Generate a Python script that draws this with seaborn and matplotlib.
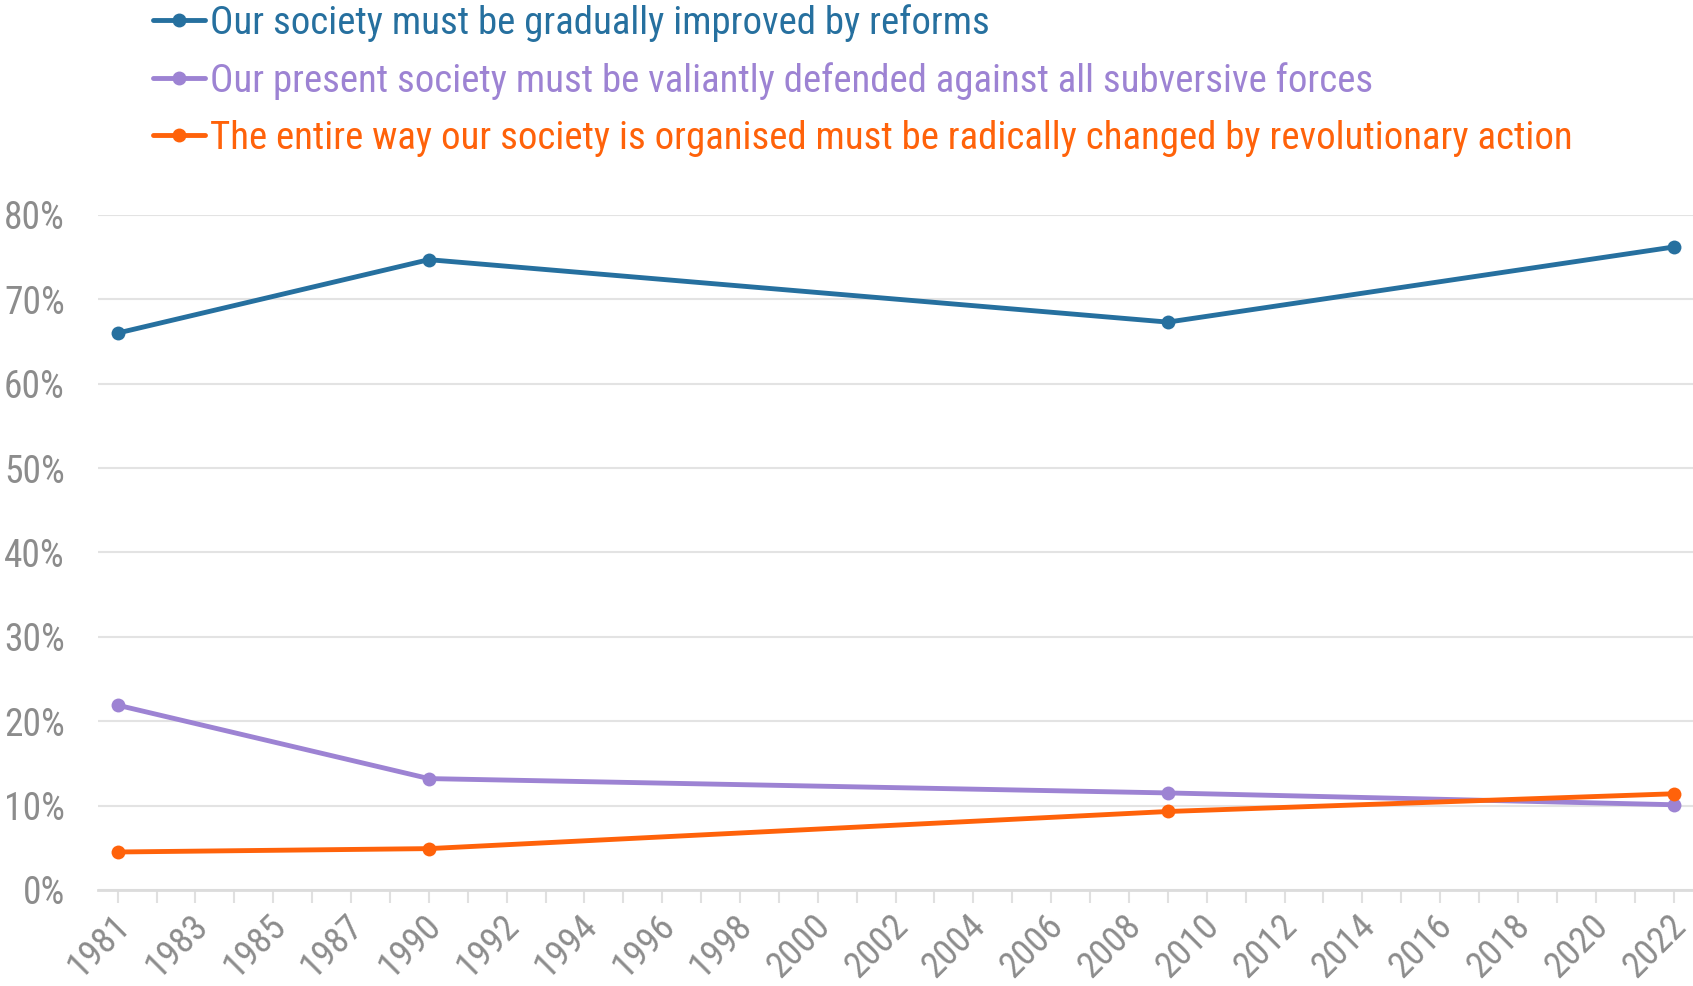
import matplotlib
matplotlib.use("Agg")
import matplotlib.pyplot as plt
import matplotlib.transforms as mtransforms
from matplotlib import font_manager
from matplotlib.lines import Line2D
import pandas as pd
import seaborn as sns

# category axis: one slot per survey year label (1989 not present)
categories = [str(y) for y in range(1981, 1989)] + [str(y) for y in range(1990, 2023)]
survey_years = ["1981", "1990", "2009", "2022"]

reforms = [66.0, 74.7, 67.3, 76.2]
defended = [21.9, 13.2, 11.5, 10.1]
revolution = [4.5, 4.9, 9.3, 11.4]

series_names = [
    "Our society must be gradually improved by reforms",
    "Our present society must be valiantly defended against all subversive forces",
    "The entire way our society is organised must be radically changed by revolutionary action",
]
colors = ["#26709f", "#9d83d3", "#ff620a"]

sns.set_theme(style="white")

# look for a narrow face installed on the machine
cands = []
for f in font_manager.fontManager.ttflist:
    fn = f.fname.lower()
    if ("condensed" in fn or "narrow" in fn) and f.style == "normal" and f.weight in (400, "normal", "regular"):
        if "semi" in fn or "extra" in fn or "light" in fn or "bold" in fn:
            continue
        cands.append(f)
pick = None
for key in ["robotocondensed", "opensans_condensed", "opensanscondensed", "liberationsansnarrow", "dejavusanscondensed", ""]:
    for f in cands:
        if key in f.fname.lower().replace("-", "").replace(" ", ""):
            pick = f
            break
    if pick:
        break
if pick is not None:
    plt.rcParams["font.family"] = [pick.name, "DejaVu Sans"]
    plt.rcParams["font.stretch"] = pick.stretch
else:
    plt.rcParams["font.family"] = ["DejaVu Sans"]

rows = []
for name, vals in zip(series_names, [reforms, defended, revolution]):
    for yr, v in zip(survey_years, vals):
        rows.append({"pos": categories.index(yr), "value": v / 100, "series": name})
df = pd.DataFrame(rows)

fig = plt.figure(figsize=(16.93, 9.86), dpi=100)
ax = fig.add_axes([0.058, 0.0974, 0.942, 0.6846])

sns.lineplot(data=df, x="pos", y="value", hue="series", hue_order=series_names,
             palette=colors, marker="o", markersize=10, markeredgewidth=0,
             linewidth=3.5, ax=ax, legend=False)

ax.set_xlim(-0.5, len(categories) - 0.5)
ax.set_ylim(0, 0.8)
ax.set_yticks([i / 10 for i in range(9)])
ax.set_yticklabels([f"{i * 10}%" for i in range(9)])
ax.set_xticks(range(len(categories)))
ax.set_xticklabels([c if i % 2 == 0 else "" for i, c in enumerate(categories)],
                   rotation=45, ha="right", rotation_mode="anchor")
ax.set_xlabel("")
ax.set_ylabel("")

ax.grid(axis="y", color="#e3e3e3", linewidth=1.5)
ax.set_axisbelow(True)
for s in ["top", "right", "left"]:
    ax.spines[s].set_visible(False)
ax.spines["bottom"].set_color("#dcdcdc")
ax.spines["bottom"].set_linewidth(2)
ax.tick_params(axis="x", which="both", bottom=True, length=9, width=1.5,
               color="#e0e0e0", labelsize=26.5, labelcolor="#8c8c8c", pad=4)
ax.tick_params(axis="y", length=0, labelsize=27, labelcolor="#8c8c8c", pad=24)

# nudge the slanted year labels a touch left so the last one stays inside
shift = mtransforms.ScaledTranslation(-6 / 100, 0, fig.dpi_scale_trans)
for lbl in ax.get_xticklabels():
    lbl.set_transform(lbl.get_transform() + shift)

handles = [Line2D([0], [0], color=c, linewidth=3.5, marker="o", markersize=9)
           for c in colors]
leg = fig.legend(handles, series_names, loc="upper left", bbox_to_anchor=(0.081, 1.012),
                 frameon=False, fontsize=28, handlelength=1.35, handletextpad=0.12,
                 labelspacing=0.52, borderaxespad=0)
for t, c in zip(leg.get_texts(), colors):
    t.set_color(c)

fig.savefig("out.png", dpi=100)
